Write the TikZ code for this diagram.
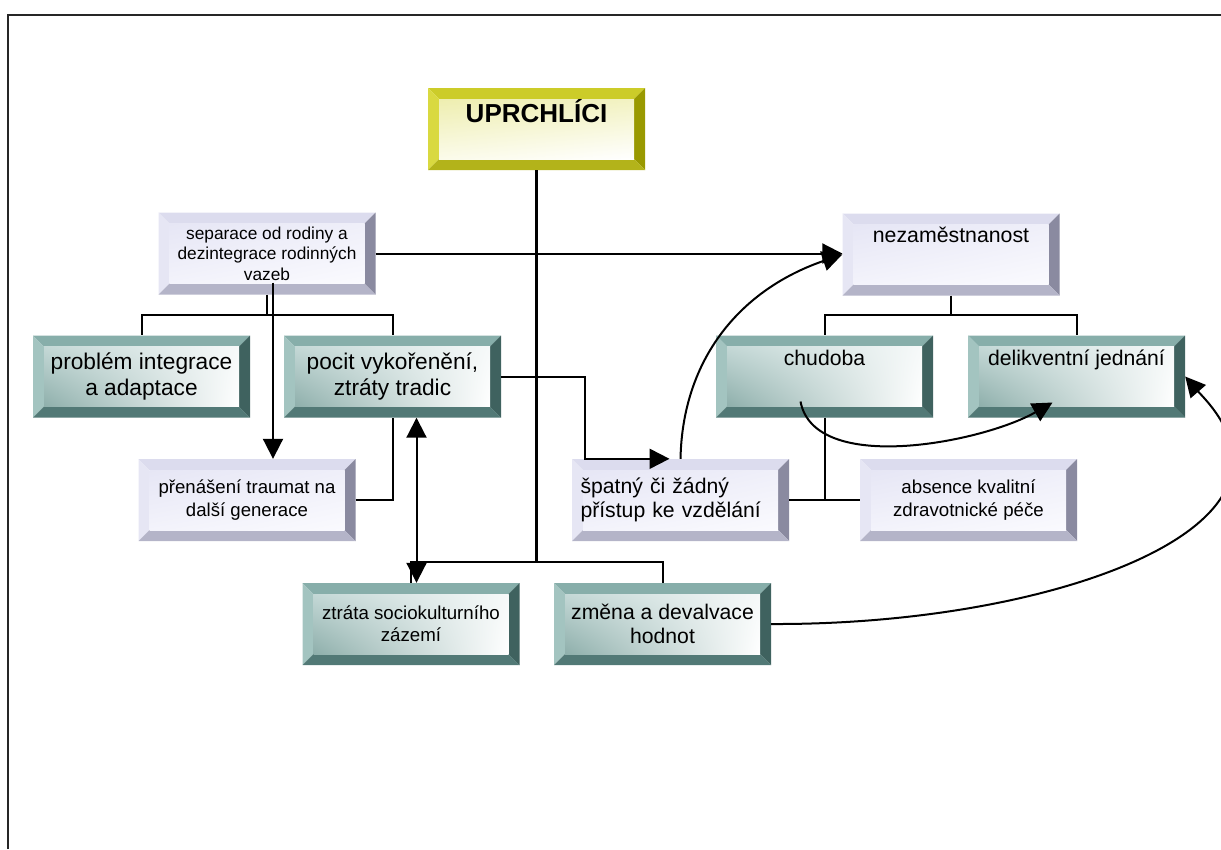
\documentclass[tikz,border=0pt]{standalone}
\usepackage{fontspec}
\setmainfont{Liberation Sans}
\usetikzlibrary{arrows.meta,shadings}

\definecolor{yelT}{HTML}{CCCC29}
\definecolor{yelL}{HTML}{D9D940}
\definecolor{yelR}{HTML}{999900}
\definecolor{yelB}{HTML}{B3B31A}
\definecolor{yelUL}{HTML}{EEEEB0}
\definecolor{yelUR}{HTML}{F2F2C2}
\definecolor{yelLL}{HTML}{FBFBEA}
\definecolor{yelLR}{HTML}{FFFFFF}
\definecolor{tealT}{HTML}{87AEAA}
\definecolor{tealL}{HTML}{A3C4C0}
\definecolor{tealR}{HTML}{3F625F}
\definecolor{tealB}{HTML}{527976}
\definecolor{tealUL}{HTML}{C4D8D6}
\definecolor{tealUR}{HTML}{F6F9F9}
\definecolor{tealLL}{HTML}{8EAFAB}
\definecolor{tealLR}{HTML}{FFFFFF}
\definecolor{lavT}{HTML}{DCDCEE}
\definecolor{lavL}{HTML}{E6E6F4}
\definecolor{lavR}{HTML}{8A8AA0}
\definecolor{lavB}{HTML}{B4B4C8}
\definecolor{lavUL}{HTML}{E6E6F5}
\definecolor{lavUR}{HTML}{EFEFF9}
\definecolor{lavLL}{HTML}{F3F3FB}
\definecolor{lavLR}{HTML}{FAFAFE}

\begin{document}
\begin{tikzpicture}[x=1pt,y=-1pt,
  box/.style={minimum width=217pt,minimum height=82pt,inner sep=0pt,align=center,fill=white,
    path picture={
      \fill[#1T] (path picture bounding box.north west) -- (path picture bounding box.north east) -- ([shift={(-11,11)}]path picture bounding box.north east) -- ([shift={(11,11)}]path picture bounding box.north west) -- cycle;
      \fill[#1L] (path picture bounding box.north west) -- ([shift={(11,11)}]path picture bounding box.north west) -- ([shift={(11,-11)}]path picture bounding box.south west) -- (path picture bounding box.south west) -- cycle;
      \fill[#1R] (path picture bounding box.north east) -- (path picture bounding box.south east) -- ([shift={(-11,-11)}]path picture bounding box.south east) -- ([shift={(-11,11)}]path picture bounding box.north east) -- cycle;
      \fill[#1B] (path picture bounding box.south west) -- (path picture bounding box.south east) -- ([shift={(-11,-11)}]path picture bounding box.south east) -- ([shift={(11,-11)}]path picture bounding box.south west) -- cycle;
      \shade[upper left=#1UL,upper right=#1UR,lower left=#1LL,lower right=#1LR] ([shift={(11,11)}]path picture bounding box.north west) rectangle ([shift={(-11,-11)}]path picture bounding box.south east);
    }},
  link/.style={line width=2pt},
  arr/.style={line width=2pt,-{Triangle[length=20pt,width=20pt]}},
  arrtwo/.style={line width=2pt,{Triangle[length=20pt,width=20pt]}-{Triangle[length=20pt,width=20pt]}}]
\useasboundingbox (0,0) rectangle (1221,849);
\draw[line width=1.5pt,black!85] (8,849) -- (8,15) -- (1221,15);

% boxes
\node[box=yel,font=\bfseries\fontsize{26}{30}\selectfont,text depth=36pt] (upr) at (536.5,129) {UPRCHLÍCI};
\node[box=lav,font=\fontsize{17.3}{20.5}\selectfont] (sep) at (267,253.5) {separace od rodiny a\\dezintegrace rodinných\\vazeb};
\node[box=lav,font=\fontsize{21.3}{25}\selectfont,text depth=39pt] (nez) at (951,254.5) {nezaměstnanost};
\node[box=teal,font=\fontsize{22.7}{26}\selectfont] (prob) at (141.5,376.5) {problém integrace\\a adaptace};
\node[box=teal,font=\fontsize{22.7}{26}\selectfont] (poc) at (392.5,376.5) {pocit vykořenění,\\ztráty tradic};
\node[box=teal,font=\fontsize{21.2}{25}\selectfont,text depth=37pt] (chud) at (824.5,376.5) {chudoba};
\node[box=teal,font=\fontsize{21.2}{25}\selectfont,text depth=37pt] (del) at (1076.5,376.5) {delikventní jednání};
\node[box=lav,font=\fontsize{18.6}{23}\selectfont] (prn) at (247,500) {přenášení traumat na\\další generace};
\node[box=lav,font=\fontsize{21.2}{24}\selectfont,align=left,text width=200pt] (spa) at (680.5,500) {špatný či žádný\\přístup ke vzdělání};
\node[box=lav,font=\fontsize{18.7}{23}\selectfont] (abs) at (968.5,500) {absence kvalitní\\zdravotnické péče};
\node[box=teal,font=\fontsize{18.7}{22}\selectfont] (ztr) at (411,624) {ztráta sociokulturního\\zázemí};
\node[box=teal,font=\fontsize{21.2}{24}\selectfont] (zme) at (662.5,624) {změna a devalvace\\hodnot};

% tree lines
\coordinate (hub) at (536.5,562);
\draw[line width=3pt] (upr.south) -- (hub);
\draw[link] (hub) -| (ztr.north);
\draw[link] (hub) -| (zme.north);
\coordinate (sepbar) at (267,315);
\draw[link] (sep.south) -- (sepbar) -| (prob.north);
\draw[link] (sepbar) -| (poc.north);
\coordinate (nezbar) at (951,315);
\draw[link] (nez.south) -- (nezbar) -| (chud.north);
\draw[link] (nezbar) -| (del.north);
\draw[link] (prn.east) -| (poc.south);
\draw[link] (spa.east) -- (abs.west);
\draw[link] (chud.south) -- (chud.south |- spa.east);

% arrows
\draw[arr] (sep.east) -- (sep.east -| nez.west);
\coordinate (sepdown) at ([shift={(6,-12)}]sep.south);
\draw[arr] (sepdown) -- (sepdown |- prn.north);
\coordinate (pocdown) at ([shift={(24,0)}]poc.south);
\draw[arrtwo] (pocdown) -- (pocdown |- ztr.north);
\coordinate (spaleft) at ([shift={(-96,0)}]spa.north);
\coordinate (spatip) at ([shift={(-11,0)}]spa.north);
\draw[arr] (poc.east) -| (spaleft) -- (spatip);
\draw[arr] (spa.north) .. controls +(2,-100) and +(-102,35) .. (nez.west);
\coordinate (chudfrom) at ([shift={(-24,25)}]chud.center);
\coordinate (delto) at ([shift={(-24,26)}]del.center);
\draw[arr] (chudfrom) .. controls +(14,74) and +(-70,40) .. (delto);
\coordinate (rbend) at (1232,470);
\draw[arr] (zme.east) .. controls +(229,1) and +(-13,90) .. (rbend) .. controls +(6,-40) and +(19,22) .. (del.east);
\end{tikzpicture}
\end{document}
